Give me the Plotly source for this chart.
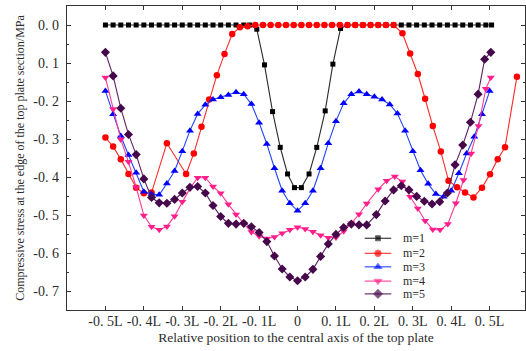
import plotly.graph_objects as go

# ---------------- data ----------------
x_ticks = [-0.5, -0.4, -0.3, -0.2, -0.1, 0.0, 0.1, 0.2, 0.3, 0.4, 0.5]
x_tick_labels = ["-0. 5L", "-0. 4L", "-0. 3L", "-0. 2L", "-0. 1L", "0",
                 "0. 1L", "0. 2L", "0. 3L", "0. 4L", "0. 5L"]
y_ticks = [0.0, -0.1, -0.2, -0.3, -0.4, -0.5, -0.6, -0.7]
y_tick_labels = ["0. 0", "0. 1", "-0. 2", "-0. 3", "-0. 4", "-0. 5", "-0. 6", "-0. 7"]
y_minor_ticks = [0.05, -0.05, -0.15, -0.25, -0.35, -0.45, -0.55, -0.65, -0.75]

series_names = ["m=1", "m=2", "m=3", "m=4", "m=5"]

grid_x = [-0.50, -0.48, -0.46, -0.44, -0.42, -0.40, -0.38, -0.36, -0.34, -0.32,
          -0.30, -0.28, -0.26, -0.24, -0.22, -0.20, -0.18, -0.16, -0.14, -0.12,
          -0.10, -0.08, -0.06, -0.04, -0.02, 0.00, 0.02, 0.04, 0.06, 0.08,
          0.10, 0.12, 0.14, 0.16, 0.18, 0.20, 0.22, 0.24, 0.26, 0.28,
          0.30, 0.32, 0.34, 0.36, 0.38, 0.40, 0.42, 0.44, 0.46, 0.48, 0.50]

m1_x = [-0.50, -0.48, -0.46, -0.44, -0.42, -0.40, -0.38, -0.36, -0.34, -0.32,
        -0.30, -0.28, -0.26, -0.24, -0.22, -0.20, -0.18, -0.16, -0.14, -0.125,
        -0.106, -0.086, -0.065, -0.045, -0.026, -0.008, 0.010, 0.030, 0.050, 0.072,
        0.092, 0.112, 0.13, 0.15, 0.17, 0.19, 0.21, 0.23, 0.25, 0.27,
        0.29, 0.31, 0.33, 0.35, 0.37, 0.39, 0.41, 0.43, 0.45, 0.47, 0.49, 0.505]
m1_y = [0.0, 0.0, 0.0, 0.0, 0.0, 0.0, 0.0, 0.0, 0.0, 0.0,
        0.0, 0.0, 0.0, 0.0, 0.0, 0.0, 0.0, 0.0, 0.0, 0.0,
        -0.011, -0.105, -0.228, -0.322, -0.392, -0.428, -0.428, -0.392, -0.322, -0.226,
        -0.103, -0.009, 0.0, 0.0, 0.0, 0.0, 0.0, 0.0, 0.0, 0.0,
        0.0, 0.0, 0.0, 0.0, 0.0, 0.0, 0.0, 0.0, 0.0, 0.0, 0.0, 0.0]

m2_x = [-0.50, -0.48, -0.46, -0.44, -0.42, -0.40, -0.38, -0.34, -0.29, -0.27,
        -0.25, -0.23, -0.21, -0.19, -0.17, -0.15, -0.13, -0.11, -0.09, -0.07,
        -0.05, -0.03, -0.01, 0.01, 0.03, 0.05, 0.07, 0.09, 0.11, 0.13,
        0.15, 0.17, 0.19, 0.21, 0.23, 0.25, 0.273, 0.293, 0.313, 0.332,
        0.352, 0.373, 0.393, 0.415, 0.436, 0.458, 0.480, 0.501, 0.521, 0.540, 0.571]
m2_y = [-0.296, -0.320, -0.353, -0.392, -0.428, -0.443, -0.441, -0.311, -0.392, -0.338,
        -0.268, -0.196, -0.132, -0.076, -0.024, -0.006, -0.003, 0.0, 0.0, 0.0,
        0.0, 0.0, 0.0, 0.0, 0.0, 0.0, 0.0, 0.0, 0.0, 0.0,
        0.0, 0.0, 0.0, 0.0, 0.0, 0.0, -0.022, -0.075, -0.129, -0.194,
        -0.266, -0.333, -0.410, -0.427, -0.441, -0.454, -0.428, -0.393, -0.353, -0.322, -0.136]

m3_x = grid_x
m3_y = [-0.174, -0.235, -0.292, -0.342, -0.389, -0.439, -0.445, -0.447, -0.417, -0.384,
        -0.332, -0.278, -0.234, -0.210, -0.196, -0.190, -0.184, -0.177, -0.182, -0.208,
        -0.257, -0.313, -0.377, -0.436, -0.469, -0.489, -0.469, -0.436, -0.377, -0.311,
        -0.253, -0.206, -0.182, -0.175, -0.182, -0.189, -0.196, -0.209, -0.233, -0.278,
        -0.332, -0.382, -0.418, -0.445, -0.452, -0.436, -0.390, -0.338, -0.294, -0.235, -0.174]

m4_x = [-0.50, -0.48, -0.46, -0.44, -0.42, -0.40, -0.38, -0.36, -0.34, -0.32,
        -0.30, -0.28, -0.26, -0.24, -0.22, -0.20, -0.18, -0.16, -0.14, -0.12,
        -0.10, -0.08, -0.06, -0.04, -0.02, 0.00, 0.02, 0.04, 0.06, 0.08,
        0.10, 0.12, 0.14, 0.16, 0.18, 0.21, 0.232, 0.253, 0.273, 0.293,
        0.313, 0.332, 0.352, 0.371, 0.391, 0.412, 0.432, 0.452, 0.471, 0.490, 0.503]
m4_y = [-0.138, -0.221, -0.301, -0.360, -0.427, -0.501, -0.531, -0.539, -0.530, -0.503,
        -0.465, -0.430, -0.402, -0.402, -0.425, -0.443, -0.472, -0.499, -0.523, -0.545,
        -0.556, -0.562, -0.558, -0.548, -0.539, -0.532, -0.537, -0.544, -0.553, -0.560,
        -0.559, -0.543, -0.522, -0.498, -0.470, -0.432, -0.410, -0.399, -0.412, -0.452,
        -0.483, -0.515, -0.538, -0.539, -0.524, -0.469, -0.408, -0.338, -0.266, -0.168, -0.138]

m5_x = [-0.50, -0.48, -0.46, -0.44, -0.42, -0.40, -0.38, -0.36, -0.34, -0.32,
        -0.30, -0.28, -0.26, -0.24, -0.22, -0.20, -0.18, -0.16, -0.14, -0.12,
        -0.10, -0.08, -0.06, -0.04, -0.02, 0.00, 0.02, 0.04, 0.06, 0.08,
        0.10, 0.12, 0.14, 0.16, 0.18, 0.205, 0.228, 0.250, 0.270, 0.290,
        0.310, 0.330, 0.350, 0.370, 0.390, 0.410, 0.430, 0.450, 0.470, 0.487, 0.503]
m5_y = [-0.072, -0.134, -0.219, -0.288, -0.341, -0.405, -0.454, -0.468, -0.469, -0.459,
        -0.442, -0.427, -0.425, -0.442, -0.475, -0.504, -0.522, -0.524, -0.522, -0.531,
        -0.546, -0.570, -0.608, -0.642, -0.663, -0.673, -0.663, -0.643, -0.609, -0.576,
        -0.551, -0.533, -0.524, -0.526, -0.526, -0.499, -0.463, -0.434, -0.423, -0.434,
        -0.451, -0.464, -0.471, -0.465, -0.442, -0.368, -0.316, -0.256, -0.182, -0.090, -0.072]

# ---------------- styles ----------------
styles = [
    dict(marker="square", size=5, mcolor="#000000", lcolor="#2a2a2a"),
    dict(marker="circle", size=6.5, mcolor="#ff0000", lcolor="#ff2a2a"),
    dict(marker="triangle-up", size=7, mcolor="#0000ff", lcolor="#2244ff"),
    dict(marker="triangle-down", size=7, mcolor="#ff1e8c", lcolor="#ff3a96"),
    dict(marker="diamond", size=7, mcolor="#45084a", lcolor="#5c2060"),
]
xs = [m1_x, m2_x, m3_x, m4_x, m5_x]
ys = [m1_y, m2_y, m3_y, m4_y, m5_y]

FONT = "Liberation Serif, Times New Roman, serif"
TXT = "#2b2b2b"
AX = "#333333"

fig = go.Figure()
for name, x, y, st in zip(series_names, xs, ys, styles):
    fig.add_trace(go.Scatter(
        x=x, y=y, name=name, mode="lines+markers",
        line=dict(color=st["lcolor"], width=1.1),
        marker=dict(symbol=st["marker"], size=st["size"], color=st["mcolor"]),
        showlegend=False, hoverinfo="skip"))

# compact legend drawn on an overlay axis spanning the plot area (0..1)
leg_x0, leg_x1, leg_text_x = 0.650, 0.708, 0.730
leg_rows = [0.236, 0.1865, 0.142, 0.095, 0.053]
for name, st, ry in zip(series_names, styles, leg_rows):
    fig.add_trace(go.Scatter(
        x=[leg_x0, (leg_x0 + leg_x1) / 2, leg_x1], y=[ry, ry, ry],
        xaxis="x2", yaxis="y2", mode="lines+markers",
        line=dict(color=st["lcolor"], width=1.1),
        marker=dict(symbol=st["marker"], size=[0, st["size"], 0], color=st["mcolor"]),
        showlegend=False, hoverinfo="skip"))
    fig.add_annotation(x=leg_text_x, y=ry, xref="x2", yref="y2", text=name,
                       showarrow=False, xanchor="left", yanchor="middle",
                       font=dict(family=FONT, size=12, color=TXT))

axis_common = dict(showline=True, linecolor=AX, linewidth=1.3, mirror="allticks",
                   ticks="inside", ticklen=4, tickcolor=AX, tickwidth=1,
                   showgrid=False, zeroline=False, automargin=False)

fig.update_layout(
    width=526, height=351,
    margin=dict(l=67, r=1, t=6, b=41),
    paper_bgcolor="white", plot_bgcolor="white",
    xaxis=dict(range=[-0.6, 0.592], tickvals=x_ticks, ticktext=x_tick_labels,
               tickfont=dict(family=FONT, size=14, color=TXT), ticklabelstandoff=-2,
               title=dict(text="Relative position to the central axis of the top plate",
                          font=dict(family=FONT, size=13.5, color=TXT), standoff=4),
               **axis_common),
    yaxis=dict(range=[-0.75, 0.05], tickvals=y_ticks, ticktext=y_tick_labels,
               tickfont=dict(family=FONT, size=14, color=TXT), ticklabelstandoff=4,
               minor=dict(ticks="inside", ticklen=2, tickvals=y_minor_ticks, tickcolor=AX),
               title=dict(text="Compressive stress at the edge of the top plate section/MPa",
                          font=dict(family=FONT, size=12, color=TXT), standoff=6),
               **axis_common),
    xaxis2=dict(overlaying="x", range=[0, 1], visible=False, fixedrange=True),
    yaxis2=dict(overlaying="y", range=[0, 1], visible=False, fixedrange=True),
)

fig.write_html("out.html",
               config={"displayModeBar": False, "staticPlot": True},
               post_script="document.body.style.margin='0';document.body.style.overflow='hidden';")
